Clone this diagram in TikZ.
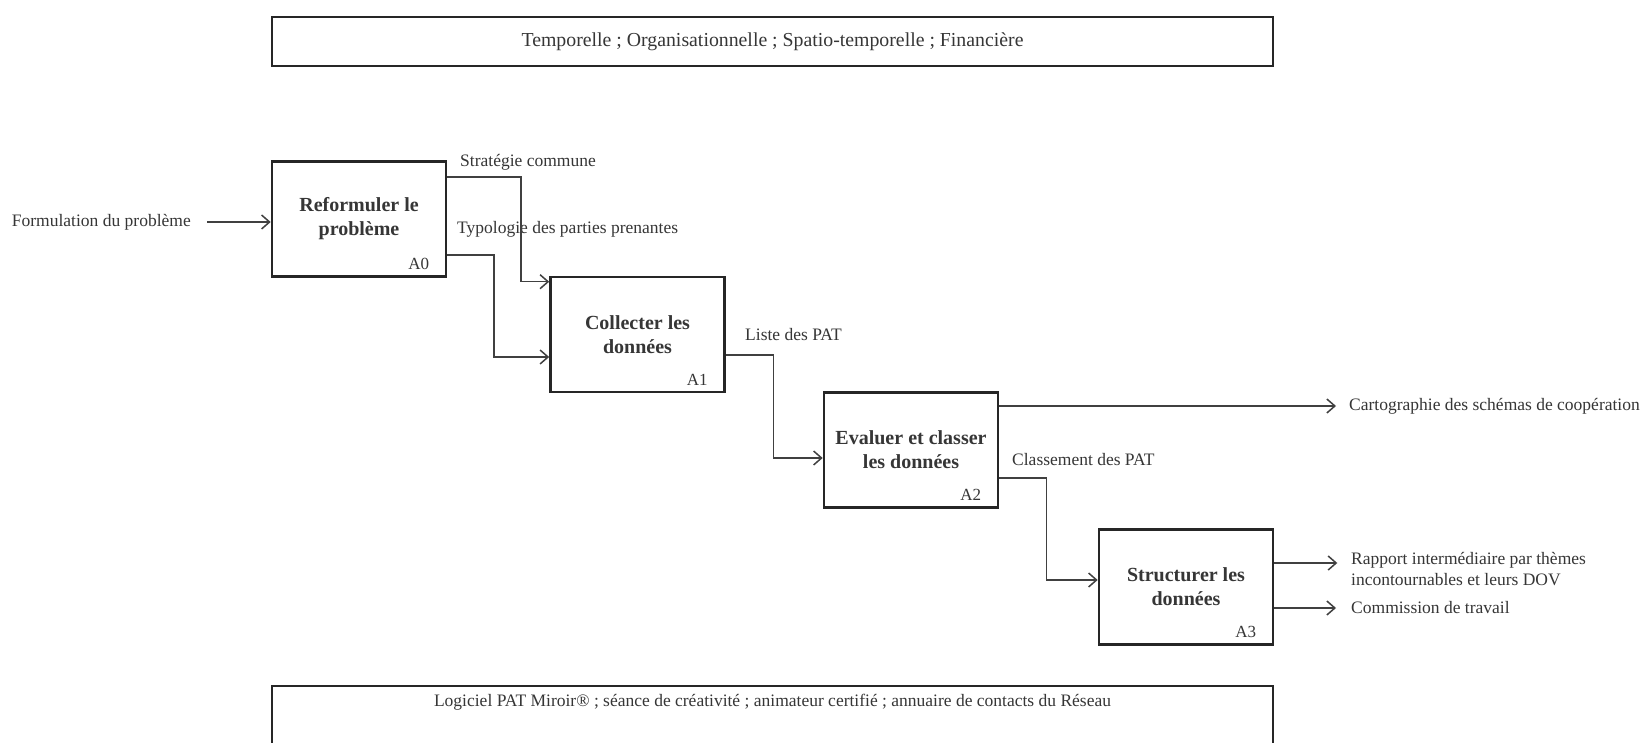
\documentclass[tikz,border=0pt]{standalone}
\usepackage{fontspec}
\setmainfont{Liberation Serif}
\usetikzlibrary{arrows.meta,calc}
\definecolor{txt}{HTML}{363636}
\definecolor{boxc}{HTML}{262626}
\definecolor{linec}{HTML}{404040}
\begin{document}
\begin{tikzpicture}[x=1pt,y=-1pt,
  lbl/.style={font=\fontsize{17.5}{21}\selectfont, text=txt, inner sep=0pt},
  proc/.style={draw=boxc, line width=2.6pt, minimum width=174pt, minimum height=115pt, align=center, font=\bfseries\fontsize{20}{24}\selectfont, text=txt, inner sep=0pt},
  tag/.style={font=\fontsize{17}{18}\selectfont, text=txt, inner sep=0pt, anchor=south east},
  conn/.style={draw=linec, line width=1.5pt},
  arr/.style={conn, -{Straight Barb[length=8pt,width=14pt]}},
  frame/.style={draw=boxc, line width=2.6pt},
]
\clip (0,0) rectangle (1642,743);
\fill[white] (0,0) rectangle (1642,743);

% top and bottom frames
\node[lbl, frame, minimum width=1001pt, minimum height=49pt, font=\fontsize{19.8}{24}\selectfont] (ctrl) at (772.5,41.5) {Temporelle ; Organisationnelle ; Spatio-temporelle ; Financière};
\node[lbl] (res) at (772.5,702) {Logiciel PAT Miroir® ; séance de créativité ; animateur certifié ; annuaire de contacts du Réseau};
\draw[frame] (272,770) |- (1273,686) -- (1273,770);

% process boxes
\node[proc] (a0) at (359,219) {Reformuler le\\problème};
\node[proc] (c1) at (637.5,334.5) {Collecter les\\données};
\node[proc] (e2) at (911,450) {Evaluer et classer\\les données};
\node[proc] (s3) at (1186,587) {Structurer les\\données};
\node[tag] (t0) at ($(a0.south east)+(-18,-8)$) {A0};
\node[tag] (t1) at ($(c1.south east)+(-18,-8)$) {A1};
\node[tag] (t2) at ($(e2.south east)+(-18,-8)$) {A2};
\node[tag] (t3) at ($(s3.south east)+(-18,-8)$) {A3};

% labels
\node[lbl, anchor=east] (form) at (191,222) {Formulation du problème};
\node[lbl, anchor=west] (strat) at (460,162) {Stratégie commune};
\node[lbl, anchor=west] (typo) at (457,229) {Typologie des parties prenantes};
\node[lbl, anchor=west] (liste) at (745,335) {Liste des PAT};
\node[lbl, anchor=west] (classe) at (1012,460) {Classement des PAT};
\node[lbl, anchor=west] (carto) at (1349,406) {Cartographie des schémas de coopération};
\node[lbl, anchor=north west, align=left] (rapp) at (1351,552) {Rapport intermédiaire par thèmes\\incontournables et leurs DOV};
\node[lbl, anchor=west] (comm) at (1351,608) {Commission de travail};

% connectors
\coordinate (cartoin) at ($(carto.west)+(-13,0)$);
\draw[arr] ($(form.east)+(16,0)$) -- (form.east -| a0.west);
\draw[arr] ($(a0.north east)+(0,17)$) -| ($(c1.north west)+(-28,6)$) -- ($(c1.north west)+(0,6)$);
\draw[arr] ($(a0.south east)+(0,-23)$) -| ($(c1.west)+(-55,22.5)$) -- ($(c1.west)+(0,22.5)$);
\draw[arr] ($(c1.east)+(0,20.5)$) -| ($(e2.west)+(-49,8)$) -- ($(e2.west)+(0,8)$);
\draw[arr] (cartoin -| e2.east) -- (cartoin);
\draw[arr] ($(e2.east)+(0,28)$) -| ($(s3.west)+(-51,-7)$) -- ($(s3.west)+(0,-7)$);
\draw[arr] ($(s3.east)+(0,-24)$) -- ($(s3.east)+(63,-24)$);
\draw[arr] ($(s3.east)+(0,21)$) -- (comm.west -| cartoin);
\end{tikzpicture}
\end{document}
